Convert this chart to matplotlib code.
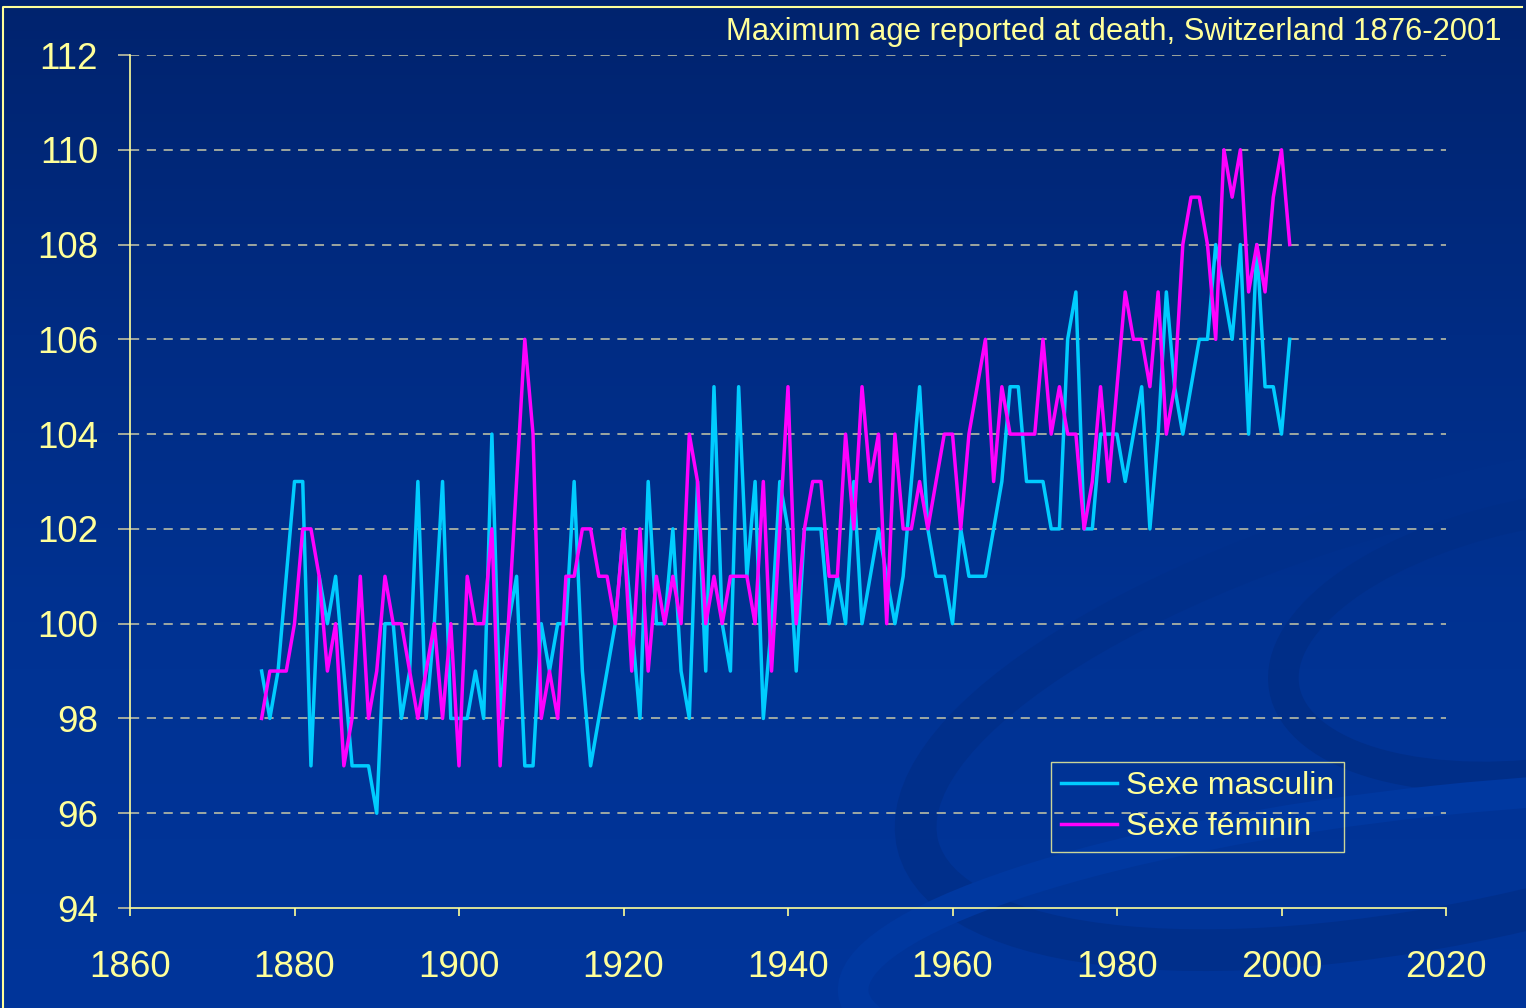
import numpy as np
import matplotlib
matplotlib.use("Agg")
import matplotlib.pyplot as plt
from matplotlib.patches import Ellipse
from matplotlib.colors import LinearSegmentedColormap

years = list(range(1876, 2002))

male = [99, 98, 99, 101, 103, 103, 97, 101, 100, 101,
        99, 97, 97, 97, 96, 100, 100, 98, 99, 103,
        98, 100, 103, 98, 98, 98, 99, 98, 104, 98,
        100, 101, 97, 97, 100, 99, 100, 100, 103, 99,
        97, 98, 99, 100, 102, 100, 98, 103, 100, 100,
        102, 99, 98, 103, 99, 105, 100, 99, 105, 101,
        103, 98, 100, 103, 102, 99, 102, 102, 102, 100,
        101, 100, 103, 100, 101, 102, 101, 100, 101, 103,
        105, 102, 101, 101, 100, 102, 101, 101, 101, 102,
        103, 105, 105, 103, 103, 103, 102, 102, 106, 107,
        102, 102, 104, 104, 104, 103, 104, 105, 102, 104,
        107, 105, 104, 105, 106, 106, 108, 107, 106, 108,
        104, 108, 105, 105, 104, 106]

female = [98, 99, 99, 99, 100, 102, 102, 101, 99, 100,
          97, 98, 101, 98, 99, 101, 100, 100, 99, 98,
          99, 100, 98, 100, 97, 101, 100, 100, 102, 97,
          100, 103, 106, 104, 98, 99, 98, 101, 101, 102,
          102, 101, 101, 100, 102, 99, 102, 99, 101, 100,
          101, 100, 104, 103, 100, 101, 100, 101, 101, 101,
          100, 103, 99, 102, 105, 100, 102, 103, 103, 101,
          101, 104, 102, 105, 103, 104, 100, 104, 102, 102,
          103, 102, 103, 104, 104, 102, 104, 105, 106, 103,
          105, 104, 104, 104, 104, 106, 104, 105, 104, 104,
          102, 103, 105, 103, 105, 107, 106, 106, 105, 107,
          104, 105, 108, 109, 109, 108, 106, 110, 109, 110,
          107, 108, 107, 109, 110, 108]

series_labels = ["Sexe masculin", "Sexe féminin"]
title_text = "Maximum age reported at death, Switzerland 1876-2001"
xticks = [1860, 1880, 1900, 1920, 1940, 1960, 1980, 2000, 2020]
yticks = [94, 96, 98, 100, 102, 104, 106, 108, 110, 112]

W, H = 1526, 1008
fig = plt.figure(figsize=(W / 100, H / 100), dpi=100)
plt.rcParams['font.family'] = ['Liberation Sans', 'DejaVu Sans']

# background gradient
bg = fig.add_axes([0, 0, 1, 1], zorder=0)
bg.set_xlim(0, W)
bg.set_ylim(H, 0)
bg.axis('off')
grad = np.linspace(0, 1, 256).reshape(-1, 1)
cmap = LinearSegmentedColormap.from_list('bgc', ['#00236e', '#002c84', '#003394', '#00359a'])
bg.imshow(grad, extent=[0, W, H, 0], aspect='auto', cmap=cmap, zorder=0)
# subtle decorative swoosh
for (cx, cy, w, h, ang, col, lw) in [
        (1500, 700, 1200, 420, -14, '#002f8b', 30),
        (1560, 640, 560, 260, -10, '#002e88', 22),
        (1450, 930, 1200, 260, -6, '#0038a0', 22)]:
    bg.add_patch(Ellipse((cx, cy), w, h, angle=ang, fill=False,
                         edgecolor=col, lw=lw, zorder=1))
# outer border
bg.plot([3, 3, 1522], [1008, 7, 7], color='#ffff99', lw=1.5, zorder=2)

ax = fig.add_axes([130 / W, 100 / H, 1316 / W, 853 / H], zorder=2)
ax.patch.set_alpha(0)
ax.set_xlim(1860, 2020)
ax.set_ylim(94, 112)
ax.set_xticks(xticks)
ax.set_yticks(yticks)
txtc = '#ffff99'
for s in ['top', 'right']:
    ax.spines[s].set_visible(False)
for s in ['left', 'bottom']:
    ax.spines[s].set_color('#ffff99')
    ax.spines[s].set_linewidth(1.2)
ax.tick_params(axis='y', direction='out', length=9, width=1.2, color='#c0c0a0',
               labelsize=26.5, labelcolor=txtc, pad=14)
ax.tick_params(axis='x', direction='out', length=6, width=1.2, color='#ffff99',
               labelsize=26.5, labelcolor=txtc, pad=24)
for v in yticks[1:]:
    ax.axhline(v, color='#c8c8a8', lw=1.1, ls=(0, (6, 5)), zorder=1)

ax.plot(years, male, color='#00ccff', lw=2.5, label=series_labels[0], zorder=3)
ax.plot(years, female, color='#ff00ff', lw=2.5, label=series_labels[1], zorder=4)

leg = ax.legend(loc='lower right', bbox_to_anchor=((1344 - 130) / 1316, (1008 - 852 - 100) / 853),
                frameon=True, fancybox=False, fontsize=23, labelcolor=txtc,
                handlelength=1.75, handletextpad=0.3, borderpad=0.3, labelspacing=0.35,
                borderaxespad=0)
leg.get_frame().set_facecolor('none')
leg.get_frame().set_edgecolor('#ffff99')
leg.get_frame().set_linewidth(1.0)

fig.text(1502 / W, (H - 40) / H, title_text, ha='right', va='baseline',
         color=txtc, fontsize=22.3)

fig.savefig('out.png', dpi=100)
